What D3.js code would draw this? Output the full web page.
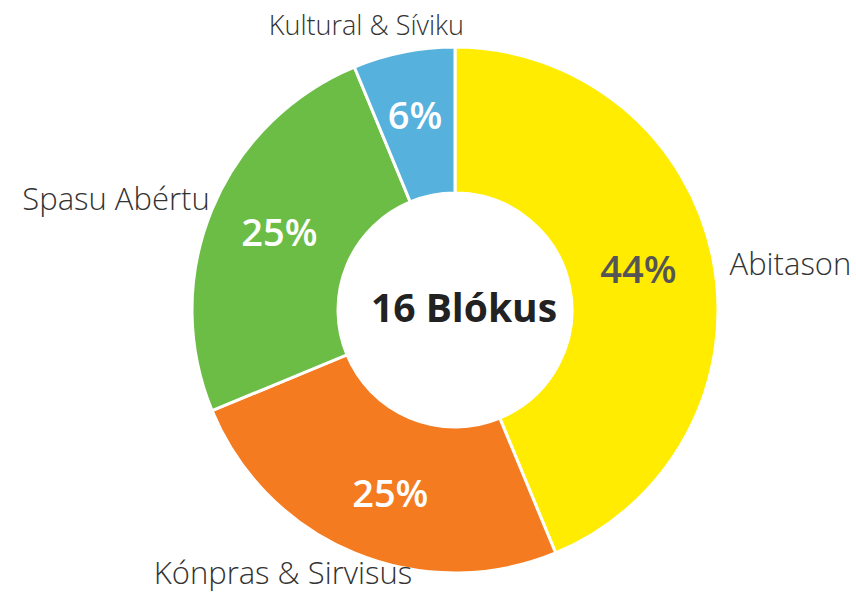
<!DOCTYPE html>
<html><head><meta charset="utf-8">
<script src="https://cdn.jsdelivr.net/npm/d3@7"></script>
<style>body{margin:0;background:#fff}svg{display:block}text{font-family:"Open Sans",sans-serif}</style>
</head><body><div id="chart"></div>
<script>
const categories = ["Abitason","Kónpras & Sirvisus","Spasu Abértu","Kultural & Síviku"];
const blocks = [7,4,4,1];
const pctLabels = ["44%","25%","25%","6%"];
const colors = ["#FFEC00","#F47B20","#6CBD45","#56B1DD"];
const pctColors = ["#555555","#ffffff","#ffffff","#ffffff"];
const centerLabel = "16 Blókus";

const W=856,H=594,cx=455,cy=310,R=263,r0=117;
// label placement: radius and text anchor plus small nudges
const labelR = 285;
const labelAnchor = ["start","middle","end","middle"];
const labelNudge = [[-5,10],[-63,0],[18,-2],[-33,-5]];
const labelSize = [31,31,31,27];
const pctNudge = [[-3,-3],[8,8],[0,-5],[-3,-8]];

const svg=d3.select("#chart").append("svg").attr("width",W).attr("height",H);
const g=svg.append("g").attr("transform",`translate(${cx},${cy})`);
const pie=d3.pie().sort(null).value(d=>d);
const arcs=pie(blocks);
const arc=d3.arc().innerRadius(r0).outerRadius(R);
g.selectAll("path.slice").data(arcs).join("path").attr("class","slice")
 .attr("d",arc).attr("fill",(d,i)=>colors[i]).attr("stroke","#fff").attr("stroke-width",3);
g.selectAll("text.pct").data(arcs).join("text").attr("class","pct")
 .attr("transform",(d,i)=>{const c=arc.centroid(d);return `translate(${c[0]+pctNudge[i][0]},${c[1]+pctNudge[i][1]})`;})
 .attr("text-anchor","middle").attr("dy","0.35em")
 .attr("font-size",38).attr("font-weight",600)
 .attr("fill",(d,i)=>pctColors[i]).text((d,i)=>pctLabels[i]);
const la=d3.arc().innerRadius(labelR).outerRadius(labelR);
g.selectAll("text.lab").data(arcs).join("text").attr("class","lab")
 .attr("transform",(d,i)=>{const c=la.centroid(d);return `translate(${c[0]+labelNudge[i][0]},${c[1]+labelNudge[i][1]})`;})
 .attr("text-anchor",(d,i)=>labelAnchor[i]).attr("dy","0.35em")
 .attr("font-size",(d,i)=>labelSize[i]).attr("font-weight",300)
 .attr("fill","#333").text((d,i)=>categories[i]);
g.append("text").attr("text-anchor","middle").attr("dy","0.35em").attr("x",9).attr("y",-2)
 .attr("font-size",39).attr("font-weight",700).attr("fill","#222").text(centerLabel);
</script></body></html>
